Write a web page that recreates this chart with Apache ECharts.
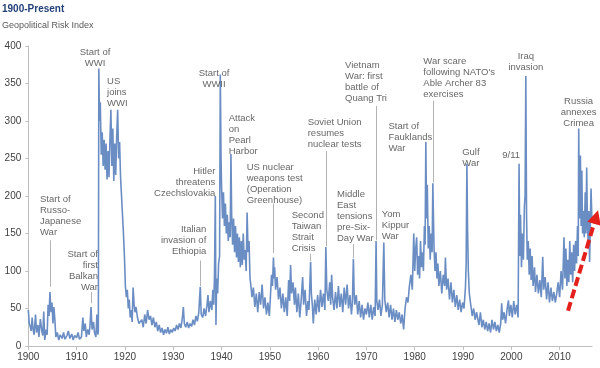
<!DOCTYPE html>
<html><head><meta charset="utf-8">
<script src="https://cdn.jsdelivr.net/npm/echarts@6/dist/echarts.min.js"></script>
<style>html,body{margin:0;padding:0;background:#fff}#c{width:600px;height:368px}</style>
</head><body><div id="c"></div>
<script>
// ---- tick labels ----
const xTickLabels = [1900,1910,1920,1930,1940,1950,1960,1970,1980,1990,2000,2010];
const yTickLabels = [0,50,100,150,200,250,300,350,400];

// ---- Geopolitical Risk Index, [year, value] ----
const gprEarly = [[1900.0,48],[1900.2,30],[1900.4,26],[1900.6,20],[1900.8,38],[1901.0,22],[1901.2,15],[1901.5,42],[1901.7,18],[1902.0,28],[1902.2,12],[1902.5,36],[1902.8,20],[1903.0,14],[1903.2,46],[1903.4,8],[1903.7,22],[1903.9,15],[1904.1,55],[1904.3,40],[1904.48,72],[1904.7,45],[1904.9,58],[1905.1,30],[1905.3,52],[1905.5,35],[1905.7,12],[1906.0,18],[1906.3,8],[1906.6,15],[1907.0,10],[1907.3,18],[1907.6,9],[1908.0,14],[1908.3,20],[1908.6,10],[1909.0,16],[1909.3,8],[1909.6,14],[1910.0,11],[1910.3,18],[1910.6,9],[1911.0,12],[1911.3,38],[1911.5,20],[1911.8,30],[1912.0,12],[1912.3,22],[1912.6,15],[1912.8,30],[1912.98,52],[1913.2,22],[1913.5,32],[1913.7,18],[1914.0,12],[1914.2,42],[1914.4,15],[1914.5,20]];
const gprWW1 = [[1914.6,370],[1914.75,300],[1914.9,325],[1915.1,255],[1915.3,285],[1915.5,240],[1915.7,275],[1915.9,235],[1916.1,270],[1916.3,222],[1916.5,260],[1916.7,225],[1916.9,275],[1917.1,315],[1917.3,240],[1917.5,290],[1917.7,220],[1917.9,270],[1918.1,228],[1918.3,280],[1918.5,315],[1918.7,250],[1918.9,272],[1919.1,225],[1919.3,200],[1919.5,175],[1919.7,150],[1919.9,120],[1920.1,80],[1920.3,65],[1920.5,75],[1920.7,50],[1920.9,62],[1921.1,38],[1921.3,48],[1921.5,32],[1921.7,78],[1921.9,55],[1922.1,45],[1922.3,52],[1922.6,38],[1922.9,30]];
const gprInterwar = [[1923.2,28],[1923.5,35],[1923.8,25],[1924.1,42],[1924.4,30],[1924.7,48],[1925.0,35],[1925.3,40],[1925.6,28],[1925.9,38],[1926.2,25],[1926.5,32],[1926.8,20],[1927.1,28],[1927.4,18],[1927.7,24],[1928.0,15],[1928.3,22],[1928.6,17],[1928.9,25],[1929.2,16],[1929.5,22],[1929.8,18],[1930.1,24],[1930.4,20],[1930.7,28],[1931.0,22],[1931.3,30],[1931.6,24],[1931.9,38],[1932.1,52],[1932.3,30],[1932.6,25],[1932.9,32],[1933.2,24],[1933.5,30],[1933.8,26],[1934.1,35],[1934.4,28],[1934.7,40],[1935.0,33],[1935.3,45],[1935.6,79],[1935.8,42],[1936.1,38],[1936.4,50],[1936.7,40],[1937.0,55],[1937.2,68],[1937.4,45],[1937.7,60],[1938.0,48],[1938.2,75],[1938.4,55],[1938.55,95],[1938.72,200],[1938.85,28],[1939.0,90],[1939.2,70],[1939.4,110],[1939.6,120]];
const gprWW2 = [[1939.75,362],[1939.9,250],[1940.0,215],[1940.2,170],[1940.4,205],[1940.6,160],[1940.8,190],[1941.0,150],[1941.2,175],[1941.4,140],[1941.6,165],[1941.8,145],[1941.95,256],[1942.1,175],[1942.3,135],[1942.5,170],[1942.7,125],[1942.9,160],[1943.1,118],[1943.3,150],[1943.5,112],[1943.7,145],[1943.9,105],[1944.1,140],[1944.3,108],[1944.5,150],[1944.7,115],[1944.9,128],[1945.1,100],[1945.3,178],[1945.5,125],[1945.7,140],[1945.9,90],[1946.1,80]];
const gprColdWar = [[1946.3,65],[1946.6,78],[1946.9,52],[1947.2,70],[1947.5,45],[1947.8,72],[1948.1,55],[1948.4,82],[1948.7,50],[1949.0,65],[1949.3,42],[1949.6,58],[1949.9,40],[1950.1,62],[1950.35,95],[1950.55,80],[1950.75,118],[1950.9,90],[1951.0,105],[1951.2,75],[1951.5,92],[1951.8,62],[1952.1,78],[1952.4,50],[1952.7,70],[1953.0,45],[1953.3,65],[1953.6,40],[1953.9,88],[1954.1,60],[1954.3,108],[1954.5,70],[1954.8,85],[1955.1,55],[1955.3,78],[1955.6,45],[1955.9,70],[1956.2,38],[1956.5,62],[1956.8,92],[1957.0,55],[1957.3,75],[1957.6,40],[1957.9,60],[1958.1,48],[1958.45,112],[1958.6,70],[1958.8,55],[1959.0,30],[1959.3,62],[1959.6,42],[1959.9,68],[1960.2,45],[1960.5,75],[1960.8,52],[1961.1,70],[1961.4,48],[1961.6,132],[1961.8,75],[1962.1,60],[1962.4,85],[1962.6,55],[1962.8,95],[1963.0,65],[1963.3,48],[1963.6,72],[1963.9,50],[1964.2,80],[1964.5,52],[1964.8,70],[1965.1,45],[1965.4,78],[1965.7,55],[1966.0,82],[1966.3,50],[1966.6,68],[1966.9,42],[1967.1,58],[1967.3,116],[1967.45,72],[1967.6,55],[1967.9,68],[1968.2,42],[1968.5,60],[1968.8,38],[1969.1,55],[1969.4,35],[1969.7,50]];
const gprLate = [[1970.0,42],[1970.3,58],[1970.6,38],[1970.9,55],[1971.2,35],[1971.5,52],[1971.8,40],[1972.0,140],[1972.15,60],[1972.4,48],[1972.7,62],[1973.0,40],[1973.3,55],[1973.6,138],[1973.8,62],[1974.1,45],[1974.4,58],[1974.7,38],[1975.0,55],[1975.3,35],[1975.6,50],[1975.9,32],[1976.2,48],[1976.5,35],[1976.8,45],[1977.1,30],[1977.4,42],[1977.7,22],[1978.0,50],[1978.3,65],[1978.6,58],[1978.9,80],[1979.2,95],[1979.5,75],[1979.8,150],[1980.0,100],[1980.2,130],[1980.4,145],[1980.6,95],[1980.8,120],[1981.0,90],[1981.2,140],[1981.4,105],[1981.6,125],[1981.8,100],[1982.0,160],[1982.15,135],[1982.3,272],[1982.45,170],[1982.6,215],[1982.8,130],[1983.0,160],[1983.2,115],[1983.4,150],[1983.6,125],[1983.75,217],[1984.0,130],[1984.2,100],[1984.4,125],[1984.6,90],[1984.8,110],[1985.0,80],[1985.3,100],[1985.6,70],[1985.9,95],[1986.2,80],[1986.35,118],[1986.6,75],[1986.9,90],[1987.2,62],[1987.5,85],[1987.8,58],[1988.1,75],[1988.4,52],[1988.7,68],[1989.0,48],[1989.3,62],[1989.6,45],[1989.9,58],[1990.2,50],[1990.5,78],[1990.65,110],[1990.8,243],[1990.95,150],[1991.1,100],[1991.3,70],[1991.6,55],[1991.9,40],[1992.2,50],[1992.5,35],[1992.8,45]];
const gprRecent = [[1993.0,38],[1993.3,28],[1993.6,45],[1993.9,25],[1994.2,35],[1994.5,22],[1994.8,32],[1995.1,20],[1995.4,30],[1995.7,18],[1996.0,35],[1996.3,22],[1996.6,32],[1996.9,20],[1997.2,28],[1997.5,18],[1997.8,30],[1998.0,57],[1998.2,35],[1998.5,45],[1998.8,30],[1999.1,48],[1999.4,61],[1999.6,40],[1999.9,55],[2000.2,38],[2000.5,60],[2000.8,42],[2001.1,55],[2001.4,38],[2001.6,243],[2001.75,120],[2001.9,175],[2002.1,105],[2002.3,150],[2002.5,115],[2002.7,185],[2002.85,200],[2003.0,360],[2003.15,175],[2003.3,115],[2003.5,140],[2003.7,95],[2003.9,130],[2004.1,88],[2004.3,120],[2004.5,80],[2004.8,105],[2005.0,72],[2005.3,95],[2005.6,70],[2005.9,88],[2006.2,65],[2006.5,119],[2006.7,75],[2007.0,92],[2007.3,62],[2007.6,85],[2007.9,58],[2008.2,78],[2008.5,60],[2008.8,72],[2009.1,58],[2009.4,70],[2009.7,85],[2010.0,65],[2010.3,100],[2010.6,75],[2010.9,145],[2011.1,90],[2011.3,130],[2011.5,80],[2011.7,115],[2011.9,85],[2012.1,140],[2012.3,95],[2012.5,125],[2012.7,85],[2012.9,135],[2013.1,100],[2013.3,140],[2013.5,110],[2013.7,160],[2013.85,120],[2013.95,290],[2014.1,170],[2014.3,254],[2014.45,160],[2014.6,234],[2014.75,150],[2014.9,180],[2015.1,145],[2015.3,205],[2015.45,150],[2015.6,238],[2015.75,165],[2015.9,140],[2016.05,180],[2016.2,112],[2016.35,160],[2016.5,210],[2016.7,165]];

// ---- annotations: [year, value, text, align] (value = top of text) ----
const annotations = [
  [1913.81, 399, 'Start of\nWWI', 'center'],
  [1916.3, 360, 'US\njoins\nWWI', 'left'],
  [1902.42, 203, 'Start of\nRusso-\nJapanese\nWar', 'left'],
  [1914.43, 130, 'Start of\nfirst\nBalkan\nWar', 'right'],
  [1938.45, 371, 'Start of\nWWII', 'center'],
  [1941.49, 311, 'Attack\non\nPearl\nHarbor', 'left'],
  [1938.72, 240, 'Hitler\nthreatens\nCzechslovakia', 'right'],
  [1936.85, 163, 'Italian\ninvasion of\nEthiopia', 'right'],
  [1945.22, 245, 'US nuclear\nweapons test\n(Operation\nGreenhouse)', 'left'],
  [1954.53, 181, 'Second\nTaiwan\nStrait\nCrisis', 'left'],
  [1957.84, 305, 'Soviet Union\nresumes\nnuclear tests', 'left'],
  [1963.91, 209, 'Middle\nEast\ntensions\npre-Six-\nDay War', 'left'],
  [1965.57, 382, 'Vietnam\nWar: first\nbattle of\nQuang Tri', 'left'],
  [1973.16, 183, 'Yom\nKippur\nWar', 'left'],
  [1974.55, 300, 'Start of\nFauklands\nWar', 'left'],
  [1981.78, 387, 'War scare\nfollowing NATO\'s\nAble Archer 83\nexercises', 'left'],
  [1991.62, 265, 'Gulf\nWar', 'center'],
  [2001.8, 261, '9/11', 'right'],
  [2003.0, 393, 'Iraq\ninvasion', 'center'],
  [2013.93, 334, 'Russia\nannexes\nCrimea', 'center']
];
// leader lines: [year, top value, bottom value]
const leaders = [
  [1904.48, 141, 79], [1912.98, 72, 57], [1935.6, 114, 80], [1950.79, 190, 124],
  [1958.45, 123, 113], [1961.6, 260, 133], [1967.3, 136, 117], [1972.0, 320, 141],
  [1983.75, 327, 218]
];
// red dashed trend arrow: [year, value] start and tip
const trendArrow = [[2011.74, 47], [2017.95, 181]];

const FONT = 'Liberation Sans';
const chart = echarts.init(document.getElementById('c'), null, {renderer: 'canvas'});
const gpr = [].concat(gprEarly, gprWW1, gprInterwar, gprWW2, gprColdWar, gprLate, gprRecent);

const option = {
  animation: false,
  title: {
    text: '1900-Present', subtext: 'Geopolitical Risk Index',
    left: 2, top: 4, padding: 0, itemGap: 7,
    textStyle: {fontFamily: FONT, fontSize: 10, fontWeight: 'bold', color: '#213f78'},
    subtextStyle: {fontFamily: FONT, fontSize: 9, color: '#595959'}
  },
  grid: {left: 28.3, right: 8, top: 46, bottom: 22},
  xAxis: {
    type: 'value', min: 1900, max: 2016.7, interval: 10,
    axisLine: {lineStyle: {color: '#bfbfbf'}},
    axisTick: {length: 4, lineStyle: {color: '#bfbfbf'}},
    splitLine: {show: false},
    axisLabel: {showMaxLabel: false, color: '#404040', fontFamily: FONT, fontSize: 10, margin: 6,
      formatter: v => xTickLabels.includes(Math.round(v)) ? String(Math.round(v)) : ''}
  },
  yAxis: {
    type: 'value', min: 0, max: 400, interval: 50,
    axisLine: {show: true, lineStyle: {color: '#bfbfbf'}},
    axisTick: {show: true, length: 3, lineStyle: {color: '#bfbfbf'}},
    splitLine: {show: false},
    axisLabel: {color: '#404040', fontFamily: FONT, fontSize: 10, margin: 7,
      formatter: v => yTickLabels.includes(v) ? String(v) : ''}
  },
  series: [
    {
      type: 'line', data: gpr, symbol: 'none', showSymbol: false,
      lineStyle: {color: '#6a8dc4', width: 1.6}, z: 3
    },
    {
      type: 'scatter', symbolSize: 0, clip: false, z: 4,
      itemStyle: {color: 'transparent'},
      data: annotations.map(a => ({
        value: [a[0], a[1]],
        label: {show: true, formatter: a[2], position: [0, 0], align: a[3], verticalAlign: 'top',
          color: '#404040', fontFamily: FONT, fontSize: 9.5, lineHeight: 11}
      })),
      markLine: {
        silent: true, animation: false, symbol: ['none', 'none'], label: {show: false},
        lineStyle: {color: '#b3b3b3', width: 1, type: 'solid'},
        data: leaders.map(l => [{coord: [l[0], l[1]]}, {coord: [l[0], l[2]]}])
      }
    }
  ]
};
chart.setOption(option);

// red dashed trend arrow, positioned through the chart's own scales
const p0 = chart.convertToPixel({gridIndex: 0}, trendArrow[0]);
const p1 = chart.convertToPixel({gridIndex: 0}, trendArrow[1]);
const dx = p1[0] - p0[0], dy = p1[1] - p0[1];
const len = Math.sqrt(dx * dx + dy * dy);
const ux = dx / len, uy = dy / len, nx = -uy, ny = ux;
const headLen = 14, headHalf = 7;
const bx = p1[0] - ux * headLen, by = p1[1] - uy * headLen;
chart.setOption({
  graphic: [
    {type: 'line', z: 10, shape: {x1: p0[0], y1: p0[1], x2: bx + ux * 2, y2: by + uy * 2},
     style: {stroke: '#e3201b', lineWidth: 4, lineDash: [9, 4]}},
    {type: 'polygon', z: 10, shape: {points: [[p1[0], p1[1]], [bx + nx * headHalf, by + ny * headHalf], [bx - nx * headHalf, by - ny * headHalf]]},
     style: {fill: '#e3201b'}}
  ]
});
</script>
</body></html>
